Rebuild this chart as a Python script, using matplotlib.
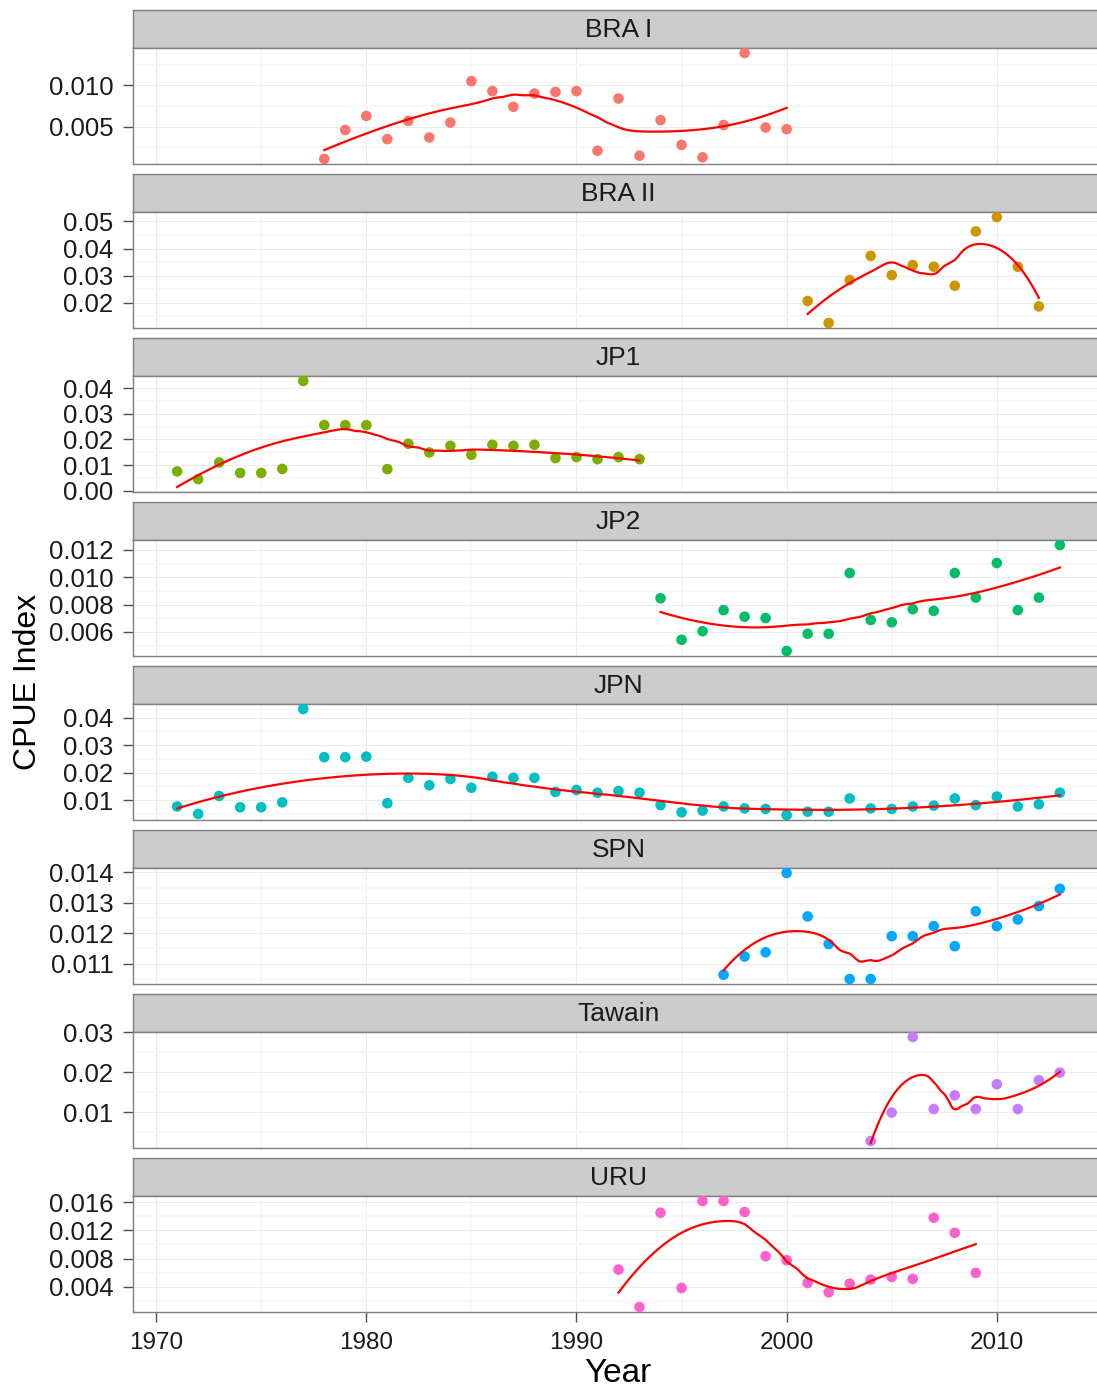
import matplotlib.pyplot as plt
import numpy as np

plt.rcParams['font.family'] = ['Liberation Sans', 'DejaVu Sans']

# Paneles y colores (paleta hue de ggplot)
paneles = ["BRA I", "BRA II", "JP1", "JP2", "JPN", "SPN", "Tawain", "URU"]
colores = ["#F8766D", "#CD9600", "#7CAE00", "#00BE67", "#00BFC4", "#00A9FF", "#C77CFF", "#FF61CC"]

# Datos
anios_bra1 = [1978, 1979, 1980, 1981, 1982, 1983, 1984, 1985, 1986, 1987, 1988, 1989,
              1990, 1991, 1992, 1993, 1994, 1995, 1996, 1997, 1998, 1999, 2000]
cpue_bra1 = [0.0011, 0.0046, 0.0063, 0.0035, 0.0057, 0.0037, 0.0055, 0.0105, 0.0093, 0.0074,
             0.0090, 0.0092, 0.0093, 0.0021, 0.0084, 0.0015, 0.0058, 0.0028, 0.0013, 0.0052,
             0.0139, 0.0049, 0.0047]

anios_bra2 = [2001, 2002, 2003, 2004, 2005, 2006, 2007, 2008, 2009, 2010, 2011, 2012]
cpue_bra2 = [0.0207, 0.0126, 0.0284, 0.0373, 0.0302, 0.0339, 0.0333, 0.0263, 0.0463, 0.0516,
             0.0333, 0.0187]

anios_jp1 = [1971, 1972, 1973, 1974, 1975, 1976, 1977, 1978, 1979, 1980, 1981, 1982,
             1983, 1984, 1985, 1986, 1987, 1988, 1989, 1990, 1991, 1992, 1993]
cpue_jp1 = [0.0075, 0.0045, 0.0110, 0.0069, 0.0069, 0.0085, 0.0428, 0.0256, 0.0256, 0.0256,
            0.0084, 0.0183, 0.0149, 0.0175, 0.0140, 0.0179, 0.0175, 0.0179, 0.0127, 0.0131,
            0.0123, 0.0131, 0.0123]

anios_jp2 = [1994, 1995, 1996, 1997, 1998, 1999, 2000, 2001, 2002, 2003, 2004, 2005,
             2006, 2007, 2008, 2009, 2010, 2011, 2012, 2013]
cpue_jp2 = [0.00846, 0.00542, 0.00605, 0.00759, 0.00711, 0.00701, 0.00460, 0.00586, 0.00586,
            0.01031, 0.00687, 0.00670, 0.00766, 0.00754, 0.01031, 0.00851, 0.01104, 0.00759,
            0.00851, 0.01236]

anios_jpn = [1971, 1972, 1973, 1974, 1975, 1976, 1977, 1978, 1979, 1980, 1981, 1982,
             1983, 1984, 1985, 1986, 1987, 1988, 1989, 1990, 1991, 1992, 1993, 1994,
             1995, 1996, 1997, 1998, 1999, 2000, 2001, 2002, 2003, 2004, 2005, 2006,
             2007, 2008, 2009, 2010, 2011, 2012, 2013]
cpue_jpn = [0.0077, 0.0050, 0.0115, 0.0074, 0.0074, 0.0092, 0.0431, 0.0256, 0.0256, 0.0258,
            0.0089, 0.0181, 0.0154, 0.0177, 0.0145, 0.0185, 0.0181, 0.0181, 0.0130, 0.0137,
            0.0127, 0.0133, 0.0127, 0.0082, 0.0056, 0.0062, 0.0077, 0.0070, 0.0068, 0.0046,
            0.0058, 0.0058, 0.0106, 0.0070, 0.0068, 0.0077, 0.0080, 0.0106, 0.0082, 0.0113,
            0.0077, 0.0085, 0.0127]

anios_spn = [1997, 1998, 1999, 2000, 2001, 2002, 2003, 2004, 2005, 2006, 2007, 2008,
             2009, 2010, 2011, 2012, 2013]
cpue_spn = [0.01063, 0.01123, 0.01137, 0.01398, 0.01255, 0.01164, 0.01049, 0.01049, 0.01190,
            0.01190, 0.01223, 0.01157, 0.01272, 0.01223, 0.01245, 0.01289, 0.01346]

anios_tw = [2004, 2005, 2006, 2007, 2008, 2009, 2010, 2011, 2012, 2013]
cpue_tw = [0.0028, 0.0099, 0.0288, 0.0108, 0.0142, 0.0108, 0.0170, 0.0108, 0.0180, 0.0199]

anios_uru = [1992, 1993, 1994, 1995, 1996, 1997, 1998, 1999, 2000, 2001, 2002, 2003,
             2004, 2005, 2006, 2007, 2008, 2009]
cpue_uru = [0.00643, 0.00110, 0.01452, 0.00381, 0.01619, 0.01619, 0.01462, 0.00833, 0.00776,
            0.00452, 0.00319, 0.00443, 0.00500, 0.00538, 0.00510, 0.01381, 0.01167, 0.00595]

# Marcas del eje Y por panel
ticks_y = [
    [0.005, 0.010],
    [0.02, 0.03, 0.04, 0.05],
    [0.00, 0.01, 0.02, 0.03, 0.04],
    [0.006, 0.008, 0.010, 0.012],
    [0.01, 0.02, 0.03, 0.04],
    [0.011, 0.012, 0.013, 0.014],
    [0.01, 0.02, 0.03],
    [0.004, 0.008, 0.012, 0.016],
]
etiquetas_y = [
    ["0.005", "0.010"],
    ["0.02", "0.03", "0.04", "0.05"],
    ["0.00", "0.01", "0.02", "0.03", "0.04"],
    ["0.006", "0.008", "0.010", "0.012"],
    ["0.01", "0.02", "0.03", "0.04"],
    ["0.011", "0.012", "0.013", "0.014"],
    ["0.01", "0.02", "0.03"],
    ["0.004", "0.008", "0.012", "0.016"],
]
ticks_x = [1970, 1980, 1990, 2000, 2010]

series = [(anios_bra1, cpue_bra1), (anios_bra2, cpue_bra2), (anios_jp1, cpue_jp1),
          (anios_jp2, cpue_jp2), (anios_jpn, cpue_jpn), (anios_spn, cpue_spn),
          (anios_tw, cpue_tw), (anios_uru, cpue_uru)]


# Suavizado loess (grado 2, pesos tricúbicos), como geom_smooth
def loess(x, y, span=0.75, n_out=120):
    x = np.asarray(x, float)
    y = np.asarray(y, float)
    q = int(np.floor(len(x) * span))
    xs = np.linspace(x.min(), x.max(), n_out)
    ys = []
    for x0 in xs:
        d = np.abs(x - x0)
        h = np.sort(d)[q - 1] * 1.0001
        w = np.clip(1 - (d / h) ** 3, 0, None) ** 3
        coef = np.polyfit(x - x0, y, 2, w=np.sqrt(w))
        ys.append(coef[-1])
    return xs, np.array(ys)


W, H = 1097, 1391
fig = plt.figure(figsize=(W / 100, H / 100), dpi=100)

izq = 133
ancho = 1104 - 133
paso = 164
alto_strip = 37.7
alto_panel = 116.6

todos = np.concatenate([s[0] for s in series])
xmin, xmax = todos.min(), todos.max()
xpad = (xmax - xmin) * 0.05
xlim = (xmin - xpad, xmax + xpad)

for i, nombre in enumerate(paneles):
    anios, cpue = series[i]
    top = 10 + paso * i

    # Tira con el nombre del panel
    ax_s = fig.add_axes([izq / W, 1 - (top + alto_strip) / H, ancho / W, alto_strip / H])
    ax_s.set_facecolor('#CCCCCC')
    ax_s.set_xticks([])
    ax_s.set_yticks([])
    for sp in ax_s.spines.values():
        sp.set_color('#7F7F7F')
        sp.set_linewidth(1.0)
    ax_s.text(0.5, 0.47, nombre, ha='center', va='center', fontsize=19, color='#1a1a1a',
              transform=ax_s.transAxes)

    # Panel de datos
    ax = fig.add_axes([izq / W, 1 - (top + alto_strip + alto_panel) / H, ancho / W, alto_panel / H])
    xs, ys = loess(anios, cpue)
    ax.scatter(anios, cpue, s=58, color=colores[i], edgecolors='none', zorder=3)
    ax.plot(xs, ys, color='#FF0000', lw=1.6, zorder=4)

    yall = np.concatenate([cpue, ys])
    ypad = (yall.max() - yall.min()) * 0.05
    ylim = (yall.min() - ypad, yall.max() + ypad)

    ty = ticks_y[i]
    dy = ty[1] - ty[0]
    menores_y = [t for t in [ty[0] - dy / 2] + [t + dy / 2 for t in ty] if ylim[0] <= t <= ylim[1]]
    menores_x = [t + 5 for t in ticks_x if xlim[0] <= t + 5 <= xlim[1]]
    ax.set_yticks(ty)
    ax.set_yticklabels(etiquetas_y[i])
    ax.set_yticks(menores_y, minor=True)
    ax.set_xticks(ticks_x)
    ax.set_xticks(menores_x, minor=True)
    ax.set_ylim(*ylim)
    ax.set_xlim(*xlim)

    ax.grid(True, which='major', color='#EBEBEB', lw=0.8, zorder=0)
    ax.grid(True, which='minor', color='#F7F7F7', lw=1.2, zorder=0)
    ax.set_axisbelow(True)
    for sp in ax.spines.values():
        sp.set_color('#7F7F7F')
        sp.set_linewidth(1.0)

    ax.tick_params(axis='y', which='major', length=7, width=1, color='#4d4d4d', pad=7,
                   labelsize=18.5, labelcolor='#1a1a1a')
    ax.tick_params(axis='both', which='minor', length=0)
    if i == len(paneles) - 1:
        ax.tick_params(axis='x', which='major', length=7, width=1, color='#4d4d4d', pad=7,
                       labelsize=17.5, labelcolor='#1a1a1a')
        ax.set_xticklabels([str(t) for t in ticks_x])
    else:
        ax.tick_params(axis='x', which='major', length=0, labelbottom=False)

fig.text(618 / W, 1 - 1373 / H, "Year", ha='center', va='center', fontsize=24)
fig.text(28 / W, 1 - 682 / H, "CPUE Index", ha='center', va='center', fontsize=23,
         rotation=90)

plt.savefig("out.png", dpi=100)
